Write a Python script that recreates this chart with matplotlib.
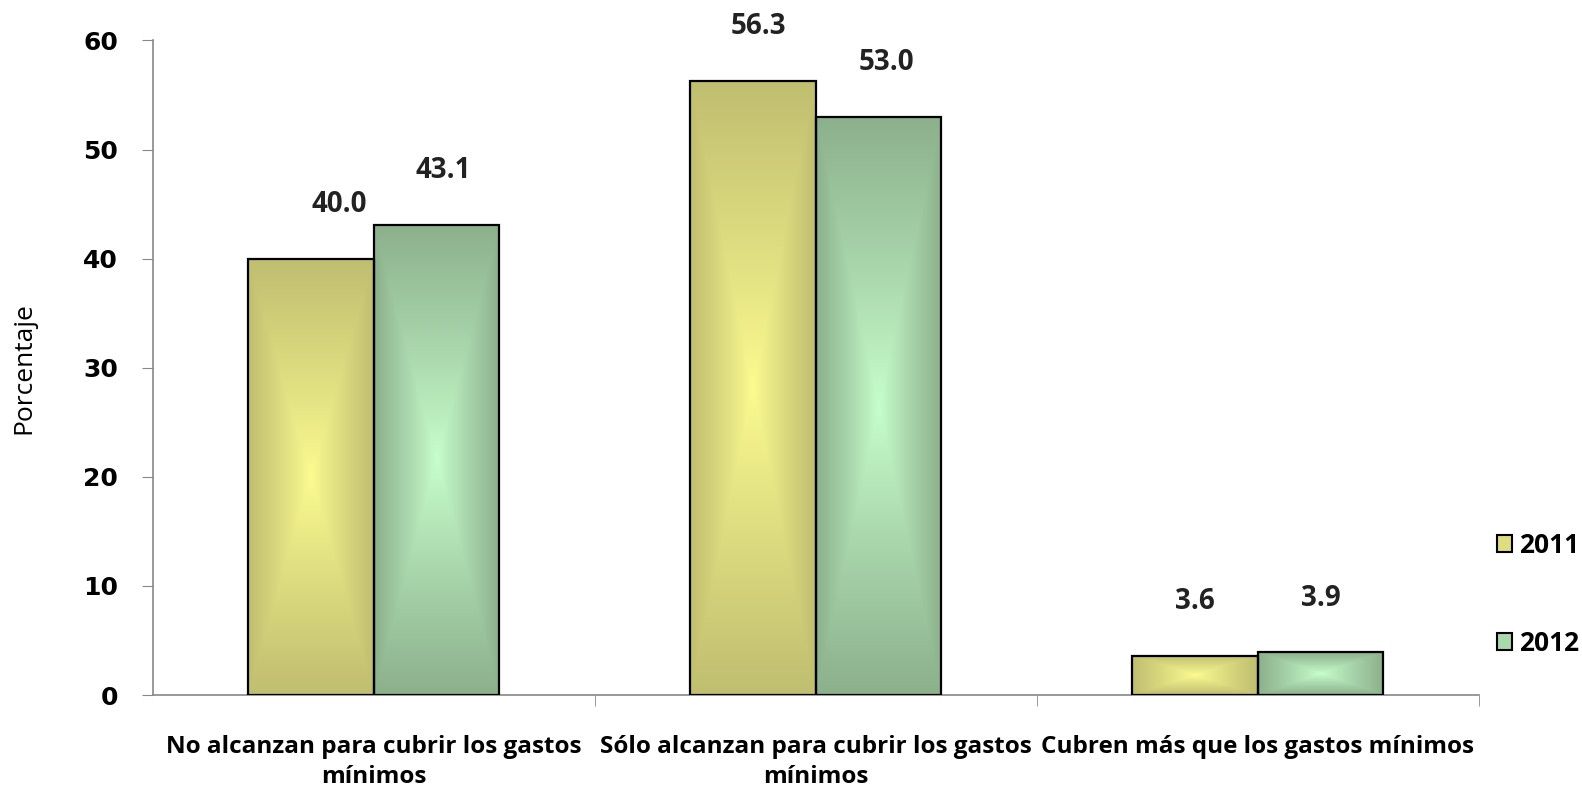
import numpy as np
import matplotlib
matplotlib.use("Agg")
import matplotlib.pyplot as plt
from matplotlib.patches import Patch

categories = ["No alcanzan para cubrir los gastos\nmínimos",
              "Sólo alcanzan para cubrir los gastos\nmínimos",
              "Cubren más que los gastos mínimos"]
series_names = ["2011", "2012"]
values_2011 = [40.0, 56.3, 3.6]
values_2012 = [43.1, 53.0, 3.9]
yticks = [0, 10, 20, 30, 40, 50, 60]

# style: horizontal nudges of value labels (points)
label_dx = [[20, 4, 0], [5, 6, 0]]

center_cols = [np.array([252, 252, 145]) / 255, np.array([200, 255, 205]) / 255]
edge_cols = [np.array([192, 190, 112]) / 255, np.array([140, 176, 140]) / 255]

fig = plt.figure(figsize=(15.82, 7.88), dpi=100)
ax = fig.add_axes([0.0967, 0.118, 0.838, 0.8307])

width = 0.284
x = np.arange(len(categories))

def grad_img(c0, c1, n=200):
    u = np.linspace(-1, 1, n)
    X, Y = np.meshgrid(u, u)
    t = np.maximum(np.abs(X), np.abs(Y))
    t = np.clip(t, 0, 1) ** 0.9
    img = c0[None, None, :] * (1 - t[..., None]) + c1[None, None, :] * t[..., None]
    return img

for si, vals in enumerate([values_2011, values_2012]):
    offs = (si - 0.5) * width
    bars = ax.bar(x + offs, vals, width, facecolor="none", edgecolor="black",
                  linewidth=1.6, zorder=3)
    img = grad_img(center_cols[si], edge_cols[si])
    for bi, b in enumerate(bars):
        x0 = b.get_x()
        ax.imshow(img, extent=[x0, x0 + b.get_width(), 0, b.get_height()],
                  aspect="auto", zorder=2, interpolation="bilinear")
        ax.annotate(f"{b.get_height():.1f}", (x0 + b.get_width() / 2, b.get_height()),
                    xytext=(label_dx[si][bi], 39), textcoords="offset points",
                    ha="center", va="center",
                    fontsize=20, fontweight="bold", family="Open Sans", color="#222222")

ax.set_xlim(-0.5, 2.5)
ax.set_ylim(0, 60)
ax.set_yticks(yticks)
ax.set_yticklabels([str(v) for v in yticks], fontsize=18, fontweight="bold",
                   family="DejaVu Sans")
ax.set_xticks(x)
ax.set_xticklabels(categories, fontsize=17.5, fontweight="bold", family="Open Sans",
                   linespacing=1.3)
ax.set_xticks([0.5, 1.5, 2.5], minor=True)
ax.tick_params(axis="x", which="major", length=0, pad=29)
ax.tick_params(axis="x", which="minor", length=8, color="#888888", direction="out")
ax.tick_params(axis="y", length=8, color="#888888", direction="out", pad=17)
for s in ["top", "right"]:
    ax.spines[s].set_visible(False)
for s in ["left", "bottom"]:
    ax.spines[s].set_color("#888888")
    ax.spines[s].set_linewidth(1.2)
ax.set_ylabel("Porcentaje", fontsize=19, family="Open Sans")
ax.yaxis.set_label_coords(-0.088, 0.5)

handles = [Patch(facecolor=(center_cols[i] + edge_cols[i]) / 2, edgecolor="black",
                 linewidth=1.5) for i in range(2)]
leg = fig.legend(handles, series_names, loc="center left",
                 bbox_to_anchor=(0.936, 0.246), frameon=False,
                 prop={"family": "Open Sans", "weight": "bold", "size": 19},
                 handlelength=0.6, handleheight=0.6, handletextpad=0.25,
                 labelspacing=2.7, borderpad=0.1)

fig.savefig("out.png", dpi=100)
